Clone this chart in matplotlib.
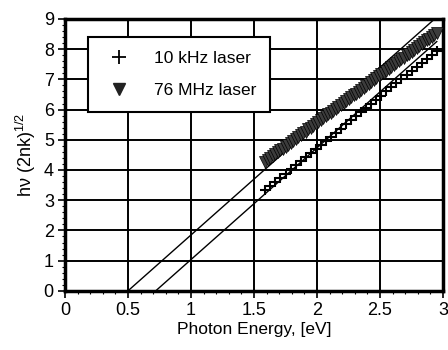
"""
Photon energy vs hv(2nk)^1/2 for two lasers, with linear extrapolation lines
"""

import matplotlib
matplotlib.use('Agg')
import matplotlib.pyplot as plt
from matplotlib.ticker import MultipleLocator
from matplotlib.lines import Line2D

plt.rcParams['font.family'] = ['Liberation Sans', 'DejaVu Sans']
plt.rcParams['mathtext.fontset'] = 'custom'
plt.rcParams['mathtext.rm'] = 'Liberation Sans'
plt.rcParams['mathtext.it'] = 'Liberation Sans:italic'
plt.rcParams['font.size'] = 13

# data
x_10k = [1.59, 1.63, 1.67, 1.71, 1.75, 1.79, 1.83, 1.87, 1.91, 1.95, 1.99, 2.03,
         2.07, 2.11, 2.15, 2.19, 2.23, 2.27, 2.31, 2.35, 2.39, 2.43, 2.47, 2.51,
         2.55, 2.59, 2.63, 2.67, 2.71, 2.75, 2.79, 2.83, 2.87, 2.91, 2.95]
y_10k = [3.34, 3.48, 3.61, 3.75, 3.88, 4.02, 4.15, 4.29, 4.42, 4.56, 4.70, 4.83,
         4.97, 5.10, 5.24, 5.37, 5.51, 5.65, 5.78, 5.92, 6.05, 6.19, 6.32, 6.46,
         6.60, 6.73, 6.87, 7.00, 7.14, 7.27, 7.41, 7.55, 7.68, 7.82, 7.95]

x_76m = [1.59, 1.61, 1.63, 1.65, 1.67, 1.69, 1.71, 1.73, 1.75, 1.77, 1.79, 1.81,
         1.83, 1.85, 1.87, 1.89, 1.91, 1.93, 1.95, 1.97, 1.99, 2.01, 2.03, 2.05,
         2.07, 2.09, 2.11, 2.13, 2.15, 2.17, 2.19, 2.21, 2.23, 2.25, 2.27, 2.29,
         2.31, 2.33, 2.35, 2.37, 2.39, 2.41, 2.43, 2.45, 2.47, 2.49, 2.51, 2.53,
         2.55, 2.57, 2.59, 2.61, 2.63, 2.65, 2.67, 2.69, 2.71, 2.73, 2.75, 2.77,
         2.79, 2.81, 2.83, 2.85, 2.87, 2.89, 2.91, 2.93, 2.95]
y_76m = [4.27, 4.33, 4.40, 4.46, 4.52, 4.58, 4.65, 4.71, 4.77, 4.84, 4.90, 4.96,
         5.02, 5.09, 5.15, 5.21, 5.27, 5.34, 5.40, 5.46, 5.53, 5.59, 5.65, 5.71,
         5.78, 5.84, 5.90, 5.96, 6.03, 6.09, 6.15, 6.22, 6.28, 6.34, 6.41, 6.47,
         6.53, 6.59, 6.66, 6.72, 6.78, 6.84, 6.91, 6.97, 7.03, 7.10, 7.16, 7.22,
         7.28, 7.35, 7.41, 7.47, 7.54, 7.60, 7.66, 7.72, 7.79, 7.85, 7.91, 7.97,
         8.04, 8.10, 8.16, 8.23, 8.29, 8.35, 8.41, 8.48, 8.54]

# extrapolation lines (end points)
fit1_x = [0.50, 2.92]
fit1_y = [0.00, 8.95]
fit2_x = [0.72, 2.95]
fit2_y = [0.00, 8.25]

fig = plt.figure(figsize=(4.48, 3.5), dpi=100)
ax = fig.add_axes([0.145, 0.169, 0.844, 0.777])

ax.set_xlim(0, 3)
ax.set_ylim(0, 9)

ax.set_xticks([0, 0.5, 1, 1.5, 2, 2.5, 3])
ax.set_xticklabels(['0', '0.5', '1', '1.5', '2', '2.5', '3'])
ax.xaxis.set_minor_locator(MultipleLocator(0.1))
ax.yaxis.set_major_locator(MultipleLocator(1))
ax.yaxis.set_minor_locator(MultipleLocator(0.2))

ax.grid(True, which='major', color='black', linewidth=1.4)
ax.set_axisbelow(True)
for sp in ax.spines.values():
    sp.set_linewidth(2.5)
ax.tick_params(which='major', direction='out', length=5, width=1.2, colors='black', pad=3)
ax.tick_params(which='minor', direction='out', length=2.5, width=0.8)

ax.plot(fit1_x, fit1_y, color='black', linewidth=1.0, zorder=3)
ax.plot(fit2_x, fit2_y, color='black', linewidth=1.0, zorder=3)

ax.plot(x_76m, y_76m, linestyle='none', marker='v', markersize=9,
        color='#3c3c3c', markeredgecolor='black', markeredgewidth=0.5, zorder=4)
ax.plot(x_10k, y_10k, linestyle='none', marker='+', markersize=7,
        color='black', markeredgewidth=1.5, zorder=4)

handles = [
    Line2D([], [], linestyle='none', marker='+', markersize=10, color='black', markeredgewidth=1.3),
    Line2D([], [], linestyle='none', marker='v', markersize=9, color='#222222'),
]
leg = ax.legend(handles, ['10 kHz laser', '76 MHz laser'],
                loc='upper left', bbox_to_anchor=(0.061, 0.934),
                fancybox=False, framealpha=1, edgecolor='black',
                labelspacing=1.0, handletextpad=1.0, borderpad=0.8,
                borderaxespad=0, fontsize=12.5)
leg.get_frame().set_linewidth(1.5)
leg.set_zorder(5)

ax.set_xlabel('Photon Energy, [eV]', labelpad=2, fontsize=12.5)
ax.set_ylabel('h\u03bd (2nk)$^{1/2}$', labelpad=4, fontsize=13)

fig.savefig('out.png', dpi=100, facecolor='white')
